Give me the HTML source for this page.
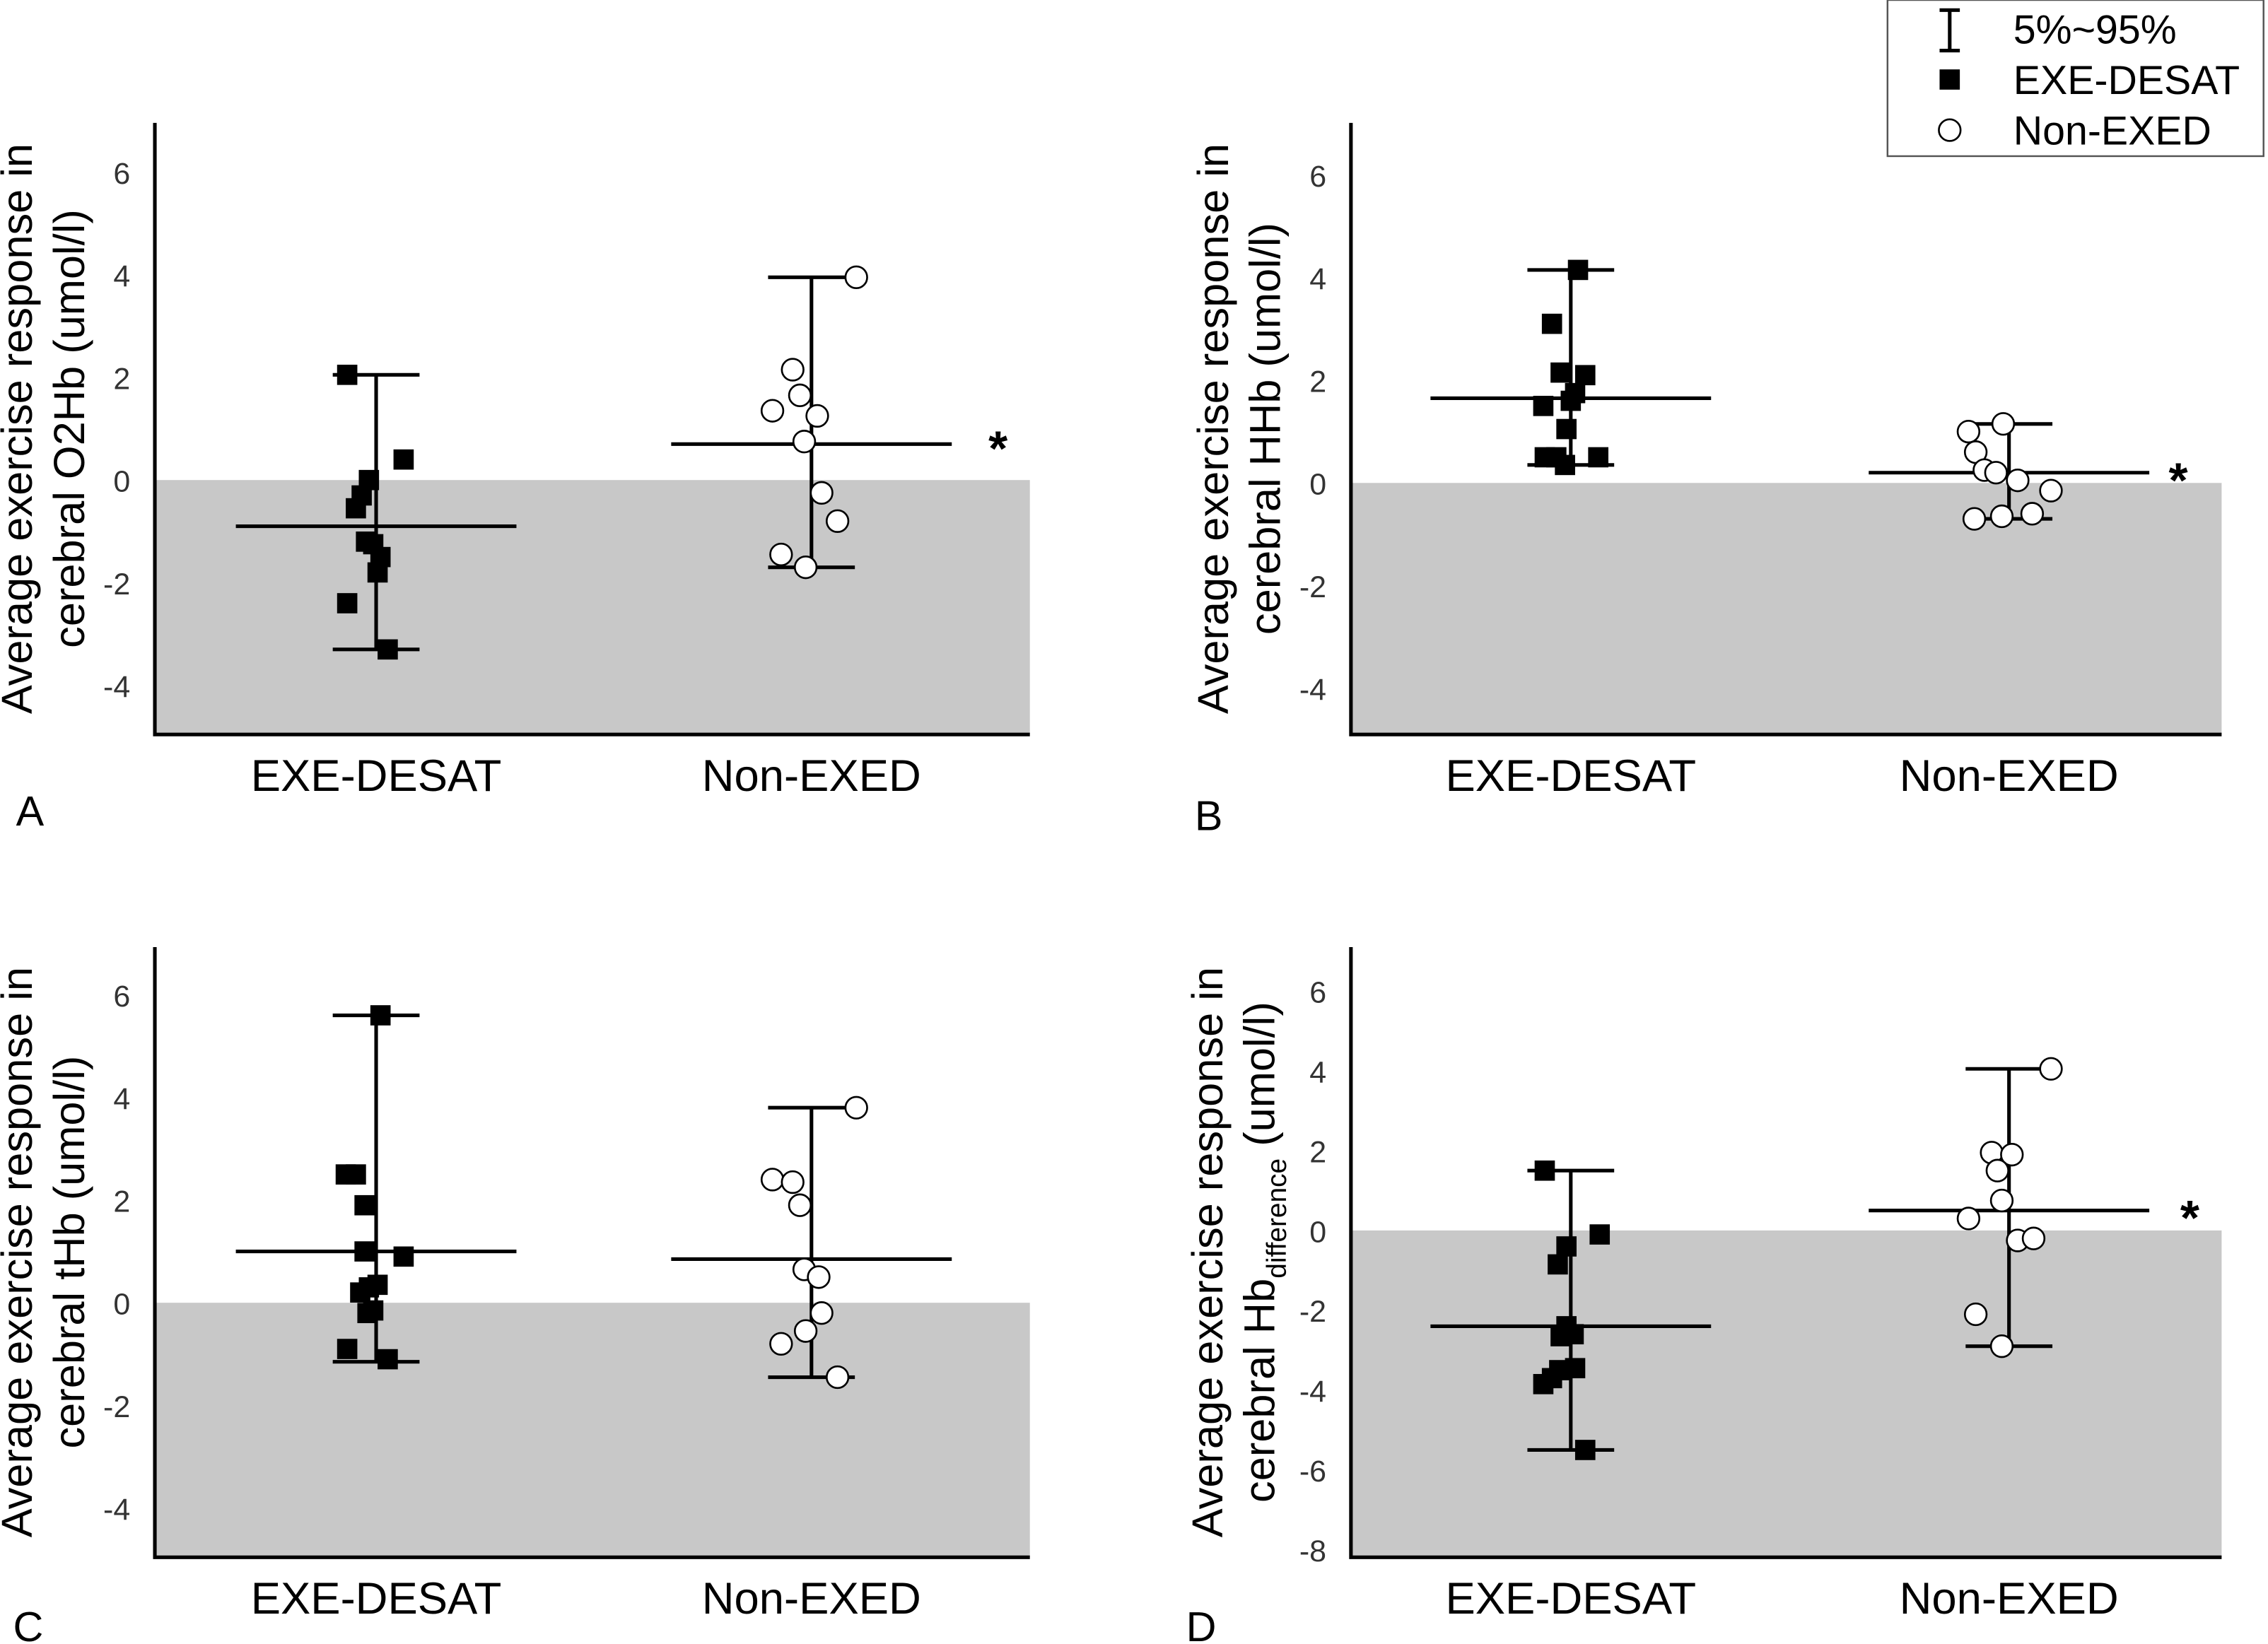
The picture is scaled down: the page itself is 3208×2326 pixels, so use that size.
<!DOCTYPE html>
<html><head><meta charset="utf-8"><style>
html,body{margin:0;padding:0;background:#fff;}
svg{display:block;font-family:"Liberation Sans",Arial,sans-serif;}
</style></head><body>
<svg id="chart" width="3208" height="2326" viewBox="0 0 1568 1137" xmlns="http://www.w3.org/2000/svg">
<g>
<rect x="1305" y="0" width="260" height="108" fill="#fff" stroke="#555" stroke-width="1.2"/>
<g><path d="M1341 7H1355M1348 7V35M1341 35H1355" stroke="#000" stroke-width="2.5" fill="none"/><text x="1392" y="30" font-size="28">5%~95%</text></g>
<g><rect x="1341" y="48" width="14" height="14" fill="#000"/><text x="1392" y="65" font-size="28">EXE-DESAT</text></g>
<g><circle cx="1348" cy="90" r="7.5" fill="#fff" stroke="#000" stroke-width="1.3"/><text x="1392" y="100" font-size="28">Non-EXED</text></g>
</g>
</svg>
<script>
const categories=["EXE-DESAT","Non-EXED"];
// Panel A
const aExeVals=[2.05,0.4,0,-0.3,-0.55,-1.2,-1.25,-1.5,-1.8,-2.4,-3.3];
const aExeJit=[-20,19,-5,-10,-14,-7,-2,3,1,-20,8];
const aNonVals=[3.95,2.15,1.65,1.35,1.25,0.75,-0.25,-0.8,-1.45,-1.7];
const aNonJit=[31,-13,-8,-27,4,-5,7,18,-21,-4];
const aStats=[{mean:-0.9,lo:-3.3,hi:2.05},{mean:0.7,lo:-1.7,hi:3.95}];
// Panel B
const bExeVals=[4.15,3.1,2.15,2.1,1.75,1.6,1.5,1.05,0.5,0.5,0.5,0.35];
const bExeJit=[5,-13,-7,10,3,0,-19,-3,-18,-10,19,-4];
const bNonVals=[1.15,1.0,0.6,0.25,0.2,0.05,-0.15,-0.7,-0.6,-0.65];
const bNonJit=[-4,-28,-23,-17,-9,6,29,-24,16,-5];
const bStats=[{mean:1.65,lo:0.35,hi:4.15},{mean:0.2,lo:-0.7,hi:1.15}];
// Panel C
const cExeVals=[5.6,2.5,2.5,1.9,1.0,0.9,0.35,0.3,0.2,-0.15,-0.2,-0.9,-1.1];
const cExeJit=[3,-21,-14,-8,-8,19,1,-5,-11,-2,-6,-20,8];
const cNonVals=[3.8,2.4,2.35,1.9,0.65,0.5,-0.2,-0.55,-0.8,-1.45];
const cNonJit=[31,-27,-13,-8,-5,5,7,-4,-21,18];
const cStats=[{mean:1.0,lo:-1.15,hi:5.6},{mean:0.85,lo:-1.45,hi:3.8}];
// Panel D
const dExeVals=[1.5,-0.1,-0.4,-0.85,-2.4,-2.6,-2.65,-3.45,-3.5,-3.85,-3.7,-5.5];
const dExeJit=[-18,20,-3,-9,-3,2,-7,3,-8,-19,-13,10];
const dNonVals=[4.05,1.95,1.9,1.5,0.75,0.3,-0.25,-0.2,-2.1,-2.9];
const dNonJit=[29,-12,2,-8,-5,-28,6,17,-23,-5];
const dStats=[{mean:-2.4,lo:-5.5,hi:1.5},{mean:0.5,lo:-2.9,hi:4.05}];
const ticksA=[-4,-2,0,2,4,6];
const ticksD=[-8,-6,-4,-2,0,2,4,6];

const NS="http://www.w3.org/2000/svg";
const svg=document.getElementById('chart');
function mk(tag,attrs,parent){const e=document.createElementNS(NS,tag);for(const k in attrs)e.setAttribute(k,attrs[k]);(parent||svg).appendChild(e);return e;}

function panel(p){
  const g=mk('g',{});
  
  
  const y=v=>p.y0-v*p.ppu;
  const x=i=>p.cx[i];
  const grey=mk('rect',{x:p.left,y:y(0),width:p.right-p.left,height:p.bottom-y(0),fill:'#c8c8c8'},g);
  
  
  const ax=mk('path',{d:`M${p.left} ${p.top}V${p.bottom}H${p.right}`,stroke:'#000','stroke-width':2.5,fill:'none'},g);
  
  
  p.ticks.forEach(t=>{
    const tl=mk('text',{x:p.left-17,y:y(t)+8,'font-size':21,'text-anchor':'end',fill:'#333'},g);
    tl.textContent=t;
    
    
  });
  categories.forEach((c,i)=>{
    const tl=mk('text',{x:x(i),y:p.bottom+39,'font-size':31,'text-anchor':'middle'},g);
    tl.textContent=c;
    
    
    const s=p.stats[i];
    const eb=mk('path',{d:`M${x(i)-30} ${y(s.hi)}H${x(i)+30}M${x(i)} ${y(s.hi)}V${y(s.lo)}M${x(i)-30} ${y(s.lo)}H${x(i)+30}M${x(i)-97} ${y(s.mean)}H${x(i)+97}`,stroke:'#000','stroke-width':2.5,fill:'none'},g);
    
    
  });
  p.exe.forEach((v,k)=>{
    const r=mk('rect',{x:x(0)+p.exeJ[k]-7,y:y(v)-7,width:14,height:14,fill:'#000'},g);
    
    
  });
  p.non.forEach((v,k)=>{
    const c=mk('circle',{cx:x(1)+p.nonJ[k],cy:y(v),r:7.5,fill:'#fff',stroke:'#000','stroke-width':1.3},g);
    
    
  });
  if(p.star){
    const s=mk('text',{x:p.star[0],y:p.star[1],'font-size':34,'text-anchor':'middle','font-weight':'bold'},g);
    s.textContent='*';
    
    
  }
  const l=mk('text',{x:p.letter[0],y:p.letter[1],'font-size':29},g);
  l.textContent=p.id;
  
  
  const cy=(p.top+p.bottom)/2;
  const t1=mk('text',{transform:`translate(${p.titleX} ${cy}) rotate(-90)`,'font-size':30,'text-anchor':'middle'},g);
  t1.textContent='Average exercise response in';
  
  
  const t2=mk('text',{transform:`translate(${p.titleX+36} ${cy}) rotate(-90)`,'font-size':30,'text-anchor':'middle'},g);
  t2.innerHTML=p.title2;
  
  
}
panel({id:'A',left:107,right:712,top:85,bottom:508,y0:332,ppu:35.5,cx:[260,561],ticks:ticksA,stats:aStats,exe:aExeVals,exeJ:aExeJit,non:aNonVals,nonJ:aNonJit,star:[690,322],letter:[11,571],titleX:22,title2:'cerebral O2Hb (umol/l)'});
panel({id:'B',left:934,right:1536,top:85,bottom:508,y0:334,ppu:35.5,cx:[1086,1389],ticks:ticksA,stats:bStats,exe:bExeVals,exeJ:bExeJit,non:bNonVals,nonJ:bNonJit,star:[1506,344],letter:[826,574],titleX:849,title2:'cerebral HHb (umol/l)'});
panel({id:'C',left:107,right:712,top:655,bottom:1077,y0:901,ppu:35.5,cx:[260,561],ticks:ticksA,stats:cStats,exe:cExeVals,exeJ:cExeJit,non:cNonVals,nonJ:cNonJit,star:null,letter:[9,1135],titleX:22,title2:'cerebral tHb (umol/l)'});
panel({id:'D',left:934,right:1536,top:655,bottom:1077,y0:851,ppu:27.6,cx:[1086,1389],ticks:ticksD,stats:dStats,exe:dExeVals,exeJ:dExeJit,non:dNonVals,nonJ:dNonJit,star:[1514,854],letter:[820,1135],titleX:845,title2:'cerebral Hb<tspan font-size="19" dy="8">difference</tspan><tspan dy="-8"> (umol/l)</tspan>'});
</script>
</body></html>
